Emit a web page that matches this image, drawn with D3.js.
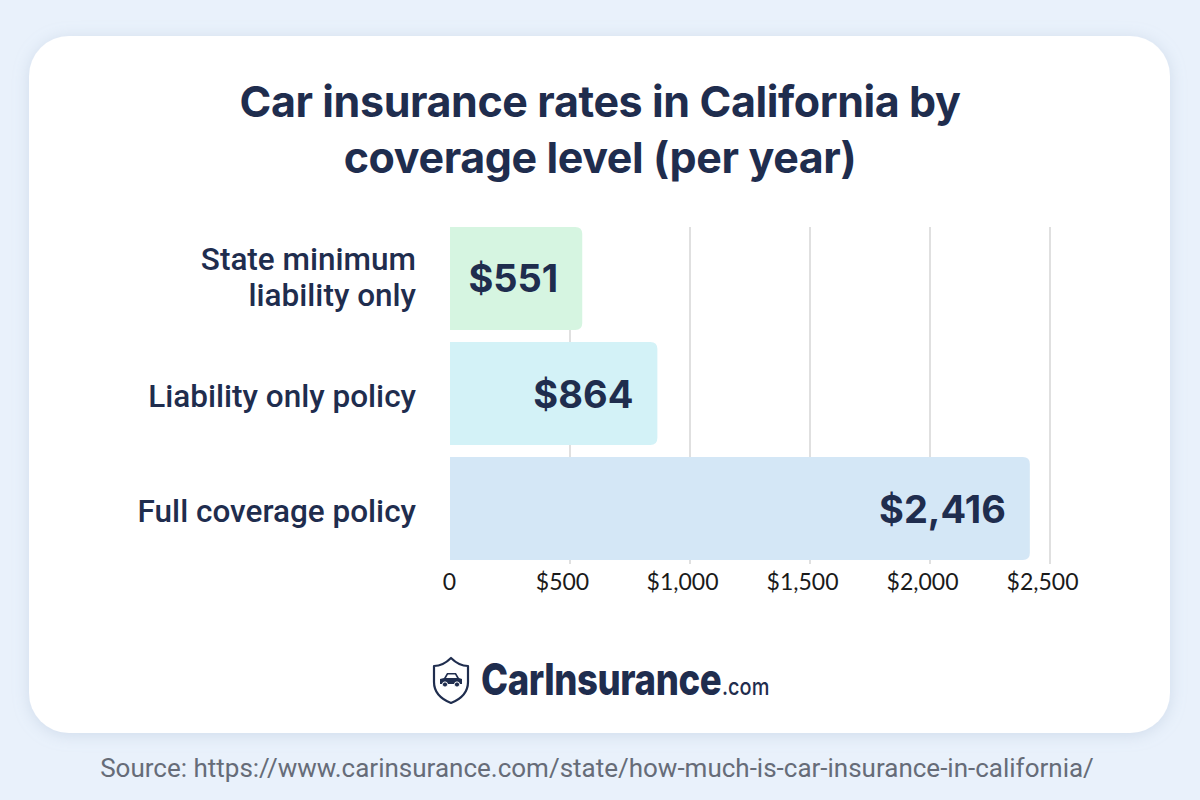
<!DOCTYPE html>
<html><head><meta charset="utf-8">
<script src="https://cdn.jsdelivr.net/npm/d3@7"></script>
<style>
html,body{margin:0;padding:0;background:#e9f1fb;}
svg{display:block;}
</style></head>
<body>
<script>
const categories = ["State minimum liability only", "Liability only policy", "Full coverage policy"];
const categoryLines = [["State minimum", "liability only"], ["Liability only policy"], ["Full coverage policy"]];
const values = [551, 864, 2416];
const valueLabels = ["$551", "$864", "$2,416"];
const barColors = ["#d6f5e1", "#d3f2f7", "#d4e7f6"];
const tickValues = [0, 500, 1000, 1500, 2000, 2500];
const tickLabels = ["0", "$500", "$1,000", "$1,500", "$2,000", "$2,500"];
const titleLines = ["Car insurance rates in California by", "coverage level (per year)"];
const sourceText = "Source: https://www.carinsurance.com/state/how-much-is-car-insurance-in-california/";

const W = 1200, H = 800;
const navy = "#1f2d4e";
const svg = d3.select("body").append("svg").attr("width", W).attr("height", H);

const defs = svg.append("defs");
const f = defs.append("filter").attr("id","sh").attr("x","-10%").attr("y","-10%").attr("width","120%").attr("height","120%");
f.append("feDropShadow").attr("dx",0).attr("dy",2).attr("stdDeviation",8).attr("flood-color","#9fb3cc").attr("flood-opacity",0.35);

svg.append("rect").attr("width",W).attr("height",H).attr("fill","#e9f1fb");
svg.append("rect").attr("x",29).attr("y",36).attr("width",1141).attr("height",697).attr("rx",40)
  .attr("fill","#ffffff").attr("filter","url(#sh)");

// title
svg.append("g").selectAll("text").data(titleLines).join("text")
  .attr("x",600).attr("y",(d,i)=>117+i*56).attr("text-anchor","middle")
  .attr("font-family","Inter, Roboto, sans-serif").attr("font-weight",700).attr("font-size",43)
  .attr("letter-spacing","-0.4").attr("fill",navy).text(d=>d);

// scales
const x = d3.scaleLinear().domain([0,2500]).range([450,1050]);
const y = d3.scaleBand().domain(categories).range([227,560]).paddingInner(0.105);

// grid
svg.append("g").selectAll("line").data(tickValues.slice(1)).join("line")
  .attr("x1",d=>x(d)).attr("x2",d=>x(d)).attr("y1",227).attr("y2",564)
  .attr("stroke","#d6d6d6").attr("stroke-width",1.5);

// bars (square left, rounded right)
const r = 7;
function barPath(x0,x1,y0,h){
  return `M${x0},${y0}H${x1-r}Q${x1},${y0} ${x1},${y0+r}V${y0+h-r}Q${x1},${y0+h} ${x1-r},${y0+h}H${x0}Z`;
}
svg.append("g").selectAll("path").data(values).join("path")
  .attr("d",(d,i)=>barPath(x(0),x(d),y(categories[i]),y.bandwidth()))
  .attr("fill",(d,i)=>barColors[i]);

// value labels
svg.append("g").selectAll("text").data(values).join("text")
  .attr("x",d=>x(d)-24).attr("y",(d,i)=>y(categories[i])+y.bandwidth()/2+14)
  .attr("text-anchor","end").attr("font-family","Inter, Roboto, sans-serif").attr("font-weight",700)
  .attr("font-size",38).attr("fill",navy).text((d,i)=>valueLabels[i]);

// category labels
const cl = svg.append("g").selectAll("text").data(categories).join("text")
  .attr("text-anchor","end").attr("font-family","Roboto, sans-serif").attr("font-weight",500)
  .attr("font-size",31.5).attr("fill",navy);
cl.each(function(d,i){
  const lines = categoryLines[i];
  const cy = y(d)+y.bandwidth()/2;
  const off = lines.length > 1 ? 10 : 13.5;
  d3.select(this).selectAll("tspan").data(lines).join("tspan")
    .attr("x",416).attr("y",(t,j)=>cy+off+(j-(lines.length-1)/2)*36).text(t=>t);
});

// axis
const axis = d3.axisBottom(x).tickValues(tickValues).tickFormat((d,i)=>tickLabels[i]).tickSize(0).tickPadding(0);
const ag = svg.append("g").attr("transform","translate(0,590)").call(axis);
ag.select(".domain").remove();
ag.selectAll("text").attr("font-family","Lato, sans-serif").attr("font-size",23)
  .attr("fill","#1a1a1a").attr("y",0).attr("dy",0)
  .attr("dx",(d)=>d===0?-1:-8);

// logo
const lg = svg.append("g").attr("transform","translate(451,680)");
lg.append("path").attr("d","M0,-22 C6,-16 12,-14 17,-14 L17,2 C17,12 10,19 0,23 C-10,19 -17,12 -17,2 L-17,-14 C-12,-14 -6,-16 0,-22 Z")
  .attr("fill","none").attr("stroke",navy).attr("stroke-width",2.2).attr("stroke-linejoin","round");
lg.append("path").attr("d","M-11,4 L-11,-1 L-7,-2 L-4,-7 L5,-7 L8,-2 L11,-1 L11,4 Z").attr("fill",navy);
lg.append("circle").attr("cx",-6).attr("cy",4.5).attr("r",2.6).attr("fill",navy).attr("stroke","#fff").attr("stroke-width",1);
lg.append("circle").attr("cx",6).attr("cy",4.5).attr("r",2.6).attr("fill",navy).attr("stroke","#fff").attr("stroke-width",1);
lg.append("path").attr("d","M-3,-5.5 L4,-5.5 L6,-2 L-5,-2 Z").attr("fill","#fff");

const lt = svg.append("text").attr("x",0).attr("y",0)
  .attr("transform","translate(481,695) scale(0.83,1)")
  .attr("font-family","Inter, Roboto, sans-serif").attr("fill",navy);
lt.append("tspan").attr("font-weight",800).attr("font-size",44).attr("letter-spacing","-0.5").text("CarInsurance");
lt.append("tspan").attr("font-weight",500).attr("font-size",24).attr("dx",1).text(".com");

// source
svg.append("text").attr("x",597).attr("y",777).attr("text-anchor","middle")
  .attr("font-family","Roboto, sans-serif").attr("font-size",26).attr("fill","#666c78")
  .text(sourceText);
</script>
</body></html>
